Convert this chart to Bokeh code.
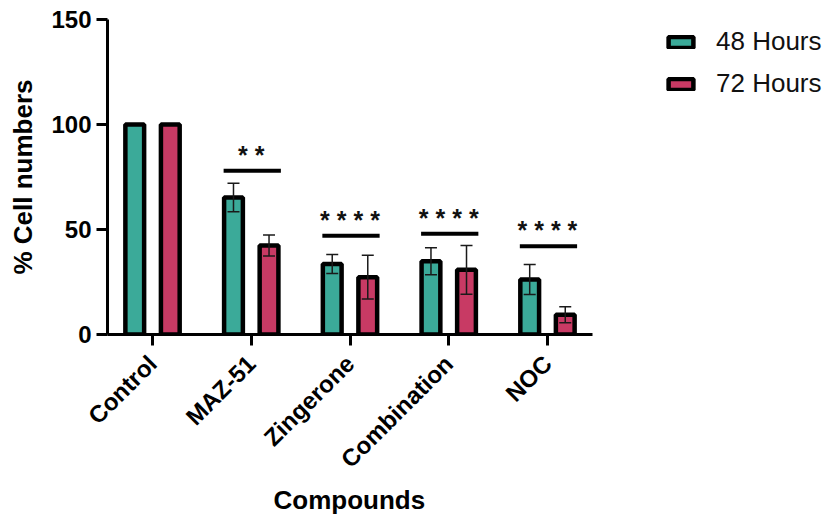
import numpy as np
from bokeh.plotting import figure
from bokeh.models import (ColumnDataSource, Range1d, FixedTicker, Whisker, TeeHead,
                          Legend, LegendItem, Title)
from bokeh.core.properties import value
from bokeh.embed import file_html
from bokeh.resources import INLINE

categories = ["Control", "MAZ-51", "Zingerone", "Combination", "NOC"]
series = ["48 Hours", "72 Hours"]
mean_48 = [100, 65.2, 33.6, 34.9, 26.2]
err_48 = [0, 6.8, 4.5, 6.4, 7.1]
mean_72 = [100, 42.4, 27.3, 30.8, 9.4]
err_72 = [0, 5.0, 10.4, 11.6, 3.8]
sig_height = [None, 78, 47, 48, 42]
sig_label = ["", "* *", "* * * *", "* * * *", "* * * *"]
y_ticks = [0, 50, 100, 150]

GREEN = "#3BAA99"
RED = "#C83A64"
FONT = "Liberation Sans"

W, H = 833, 515
LEFT, TOP, BOTTOM = 107, 19, 181
AXIS_PX = 485.0  # drawn length of the category axis in pixels
FRAME_H = H - TOP - BOTTOM
pad = 0.456
n = len(categories)
x_lo = -pad
x_axis_hi = n - 1 + pad
px_per_unit = AXIS_PX / (x_axis_hi - x_lo)
x_hi = x_lo + (W - LEFT) / px_per_unit

idx = np.arange(n)
dodge = 0.18
bw = 0.19

p = figure(width=W, height=H, output_backend="svg", toolbar_location=None,
           x_range=Range1d(x_lo, x_hi), y_range=Range1d(0, 150),
           min_border_left=LEFT, min_border_top=TOP, min_border_right=0,
           min_border_bottom=BOTTOM)
p.outline_line_color = None
p.xgrid.visible = False
p.ygrid.visible = False

src48 = ColumnDataSource(dict(x=idx - dodge, top=mean_48,
                              up=np.array(mean_48) + np.array(err_48),
                              lo=np.array(mean_48) - np.array(err_48)))
src72 = ColumnDataSource(dict(x=idx + dodge, top=mean_72,
                              up=np.array(mean_72) + np.array(err_72),
                              lo=np.array(mean_72) - np.array(err_72)))

r48 = p.vbar(x="x", top="top", bottom=0, width=bw, source=src48,
             fill_color=GREEN, line_color="black", line_width=4.5)
r72 = p.vbar(x="x", top="top", bottom=0, width=bw, source=src72,
             fill_color=RED, line_color="black", line_width=4.5)

for s, errs in ((src48, err_48), (src72, err_72)):
    sub = ColumnDataSource({k: [v for v, e in zip(s.data[k], errs) if e > 0] for k in s.data})
    w = Whisker(base="x", upper="up", lower="lo", source=sub, level="overlay",
                line_color="#1a1a1a", line_width=1.5,
                upper_head=TeeHead(size=12, line_width=1.5, line_color="#1a1a1a"),
                lower_head=TeeHead(size=12, line_width=1.5, line_color="#1a1a1a"))
    p.add_layout(w)

sig_idx = [i for i, h in enumerate(sig_height) if h is not None]
sig_src = ColumnDataSource(dict(
    x0=[idx[i] - 0.28 for i in sig_idx], x1=[idx[i] + 0.30 for i in sig_idx],
    y=[sig_height[i] for i in sig_idx], xc=[idx[i] for i in sig_idx],
    lab=[sig_label[i] for i in sig_idx]))
p.segment(x0="x0", y0="y", x1="x1", y1="y", source=sig_src,
          line_color="black", line_width=4)
p.text(x="xc", y="y", text="lab", source=sig_src, text_font=value(FONT),
       text_font_size="25px", text_font_style="bold", text_align="center",
       text_baseline="alphabetic", y_offset=-16, text_color="#111111")

# axes
p.xaxis.bounds = (x_lo, x_axis_hi)
p.xaxis.ticker = FixedTicker(ticks=list(idx))
p.xaxis.major_label_overrides = {int(i): c for i, c in zip(idx, categories)}
p.xaxis.major_label_orientation = np.pi / 4
p.yaxis.ticker = FixedTicker(ticks=y_ticks)
for ax in (p.xaxis, p.yaxis):
    ax.axis_line_width = 3
    ax.axis_line_color = "black"
    ax.major_tick_line_width = 3
    ax.major_tick_line_color = "black"
    ax.major_tick_in = 0
    ax.major_tick_out = 11
    ax.minor_tick_line_color = None
    ax.major_label_text_font = FONT
    ax.major_label_text_font_style = "bold"
    ax.major_label_text_color = "black"
    ax.axis_label_text_font = FONT
    ax.axis_label_text_font_style = "bold"
    ax.axis_label_text_font_size = "26px"
    ax.axis_label_text_color = "black"
p.yaxis.major_label_text_font_size = "24px"
p.xaxis.major_label_text_font_size = "24px"
p.yaxis.major_label_standoff = 5
p.xaxis.major_label_standoff = 14
p.yaxis.axis_label = "% Cell numbers"
p.yaxis.axis_label_standoff = 10

xtitle = Title(text="Compounds", align="left", offset=166, standoff=-6,
               text_font=FONT, text_font_size="26px", text_font_style="bold",
               text_color="black")
p.add_layout(xtitle, "below")

legend = Legend(items=[LegendItem(label=series[0], renderers=[r48]),
                       LegendItem(label=series[1], renderers=[r72])],
                location=(558, FRAME_H - 80), orientation="vertical",
                glyph_width=31, glyph_height=14, label_standoff=20,
                label_text_font=FONT, label_text_font_size="26px",
                label_text_color="#111111", spacing=11, padding=0, margin=0,
                background_fill_alpha=0, border_line_color=None)
p.add_layout(legend, "center")

open("out.html", "w").write(file_html(p, INLINE))
